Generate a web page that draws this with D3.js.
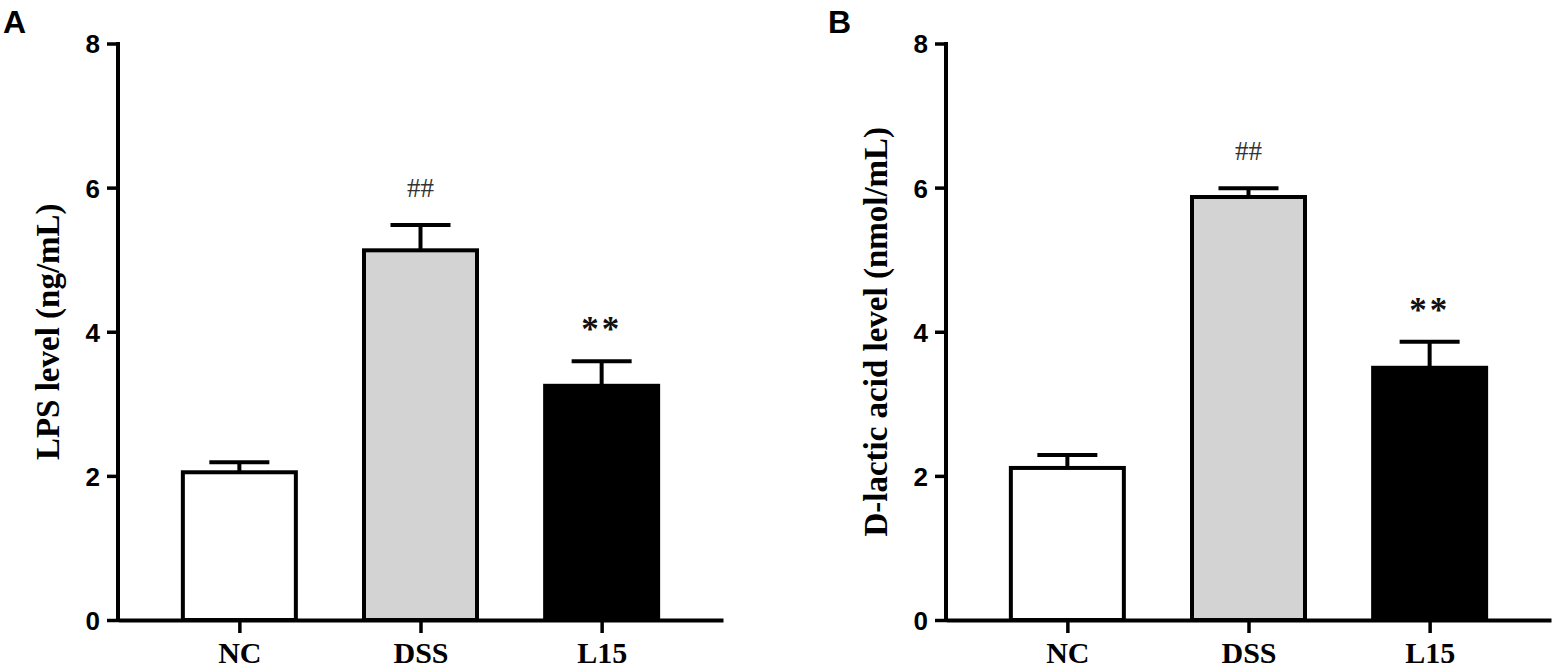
<!DOCTYPE html>
<html>
<head>
<meta charset="utf-8">
<script src="https://cdn.jsdelivr.net/npm/d3@7"></script>
<style>
  html, body { margin: 0; padding: 0; background: #fff; }
  svg { display: block; }
</style>
</head>
<body>
<svg id="chart" width="1562" height="671"></svg>
<script>
// ---- data ----
const categories = ["NC", "DSS", "L15"];
const yTicks = [0, 2, 4, 6, 8];
const lpsMean = [2.05, 5.13, 3.25];
const lpsSem = [0.14, 0.35, 0.34];
const lpsMarks = ["", "##", "**"];
const dlacMean = [2.11, 5.87, 3.50];
const dlacSem = [0.18, 0.12, 0.36];
const dlacMarks = ["", "##", "**"];
const panelLetters = ["A", "B"];
const yTitles = ["LPS level (ng/mL)", "D-lactic acid level (nmol/mL)"];
const barFills = ["#ffffff", "#d3d3d3", "#000000"];

const svg = d3.select("#chart");

function drawPanel(axisX, letterX, letter, title, means, sems, marks) {
  const g = svg.append("g");
  const y = d3.scaleLinear().domain([0, 8]).range([620, 43.5]);
  const x = d3.scalePoint().domain(categories).range([axisX, axisX + 605]).padding(0.67);
  const barW = 113;

  // bars
  g.selectAll("rect.bar").data(categories).join("rect")
    .attr("class", "bar")
    .attr("x", d => x(d) - barW / 2)
    .attr("width", barW)
    .attr("y", (d, i) => y(means[i]))
    .attr("height", (d, i) => y(0) - y(means[i]))
    .attr("fill", (d, i) => barFills[i])
    .attr("stroke", "#000")
    .attr("stroke-width", 4);

  // error bars (upper)
  g.selectAll("line.err").data(categories).join("line")
    .attr("class", "err")
    .attr("x1", d => x(d)).attr("x2", d => x(d))
    .attr("y1", (d, i) => y(means[i]))
    .attr("y2", (d, i) => y(means[i] + sems[i]))
    .attr("stroke", "#000").attr("stroke-width", 4);
  g.selectAll("line.cap").data(categories).join("line")
    .attr("class", "cap")
    .attr("x1", d => x(d) - 30).attr("x2", d => x(d) + 30)
    .attr("y1", (d, i) => y(means[i] + sems[i]))
    .attr("y2", (d, i) => y(means[i] + sems[i]))
    .attr("stroke", "#000").attr("stroke-width", 4);

  // significance marks
  g.selectAll("text.mark").data(categories).join("text")
    .attr("class", "mark")
    .attr("x", d => x(d))
    .attr("y", (d, i) => y(means[i] + sems[i]) - 37 + (marks[i] === "##" ? 9 : 17))
    .attr("text-anchor", "middle")
    .attr("font-family", "'Liberation Serif', 'Times New Roman', serif")
    .attr("font-weight", (d, i) => marks[i] === "**" ? "bold" : "normal")
    .attr("font-size", (d, i) => marks[i] === "**" ? 35 : 27)
    .attr("letter-spacing", (d, i) => marks[i] === "**" ? 3 : 0)
    .attr("fill", (d, i) => marks[i] === "##" ? "#333" : "#111")
    .text((d, i) => marks[i]);

  // y axis
  const yAxis = g.append("g")
    .attr("transform", `translate(${axisX},0)`)
    .call(d3.axisLeft(y).tickValues(yTicks).tickSize(11).tickSizeOuter(0).tickPadding(7).tickFormat(d3.format("d")));
  yAxis.select(".domain").attr("stroke-width", 4).attr("d", `M0,${y(0) + 2}V${y(8) - 1.5}`);
  yAxis.selectAll(".tick line").attr("stroke-width", 3.5);
  yAxis.selectAll(".tick text")
    .attr("font-family", "'Liberation Sans', Arial, sans-serif")
    .attr("font-weight", "bold").attr("font-size", 26).attr("dy", "0.36em").attr("fill", "#000");

  // x axis
  const xAxis = g.append("g")
    .attr("transform", `translate(0,${y(0)})`)
    .call(d3.axisBottom(x).tickSize(13).tickSizeOuter(0).tickPadding(8));
  xAxis.select(".domain").attr("stroke-width", 4);
  xAxis.selectAll(".tick line").attr("stroke-width", 3.5);
  xAxis.selectAll(".tick text")
    .attr("font-family", "'Liberation Serif', 'Times New Roman', serif")
    .attr("font-weight", "bold").attr("font-size", 30).attr("dy", null)
    .attr("y", 43).attr("fill", "#000");

  // y title
  g.append("text")
    .attr("transform", `translate(${axisX - 59},${(y(0) + y(8)) / 2}) rotate(-90)`)
    .attr("text-anchor", "middle")
    .attr("font-family", "'Liberation Serif', 'Times New Roman', serif")
    .attr("font-weight", "bold").attr("font-size", 33)
    .text(title);

  // panel letter
  g.append("text")
    .attr("x", letterX).attr("y", 33)
    .attr("font-family", "'Liberation Sans', Arial, sans-serif")
    .attr("font-weight", "bold").attr("font-size", 32)
    .text(letter);
}

drawPanel(118, 3, panelLetters[0], yTitles[0], lpsMean, lpsSem, lpsMarks);
drawPanel(946, 828, panelLetters[1], yTitles[1], dlacMean, dlacSem, dlacMarks);
</script>
</body>
</html>
